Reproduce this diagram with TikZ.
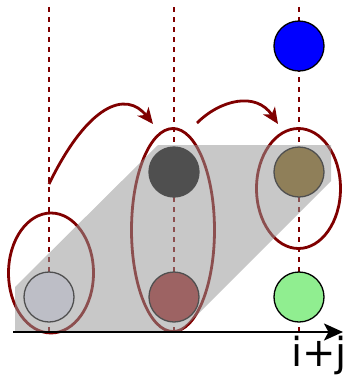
\documentclass[tikz,border=0pt]{standalone}
\usepackage{fontspec}
\newfontfamily\labelfont{DejaVu Sans}
\usetikzlibrary{shapes.geometric,arrows.meta}
\definecolor{maroonc}{RGB}{128,0,0}
\definecolor{shadec}{RGB}{151,151,151}
\definecolor{lavc}{RGB}{232,234,252}
\definecolor{brownc}{RGB}{165,42,42}
\definecolor{olivec}{RGB}{134,100,21}
\definecolor{greenc}{RGB}{144,238,144}
\begin{document}
\begin{tikzpicture}[x=1pt,y=-1pt,
  guide/.style={draw=maroonc, line width=1.3pt, dash pattern=on 4.5pt off 5.5pt},
  dot/.style={circle, draw=black, line width=1.3pt, inner sep=0pt, minimum size=50pt},
  group/.style={ellipse, draw=maroonc, line width=2.8pt, inner sep=0pt},
  hop/.style={draw=maroonc, line width=2.8pt, -{Stealth[length=16pt,width=14pt,inset=4.5pt]}},
  axisline/.style={draw=black, line width=2.5pt, -{Stealth[length=19pt,width=17pt,inset=4.5pt]}}
]
\useasboundingbox (0,0) rectangle (347,376);
% guide lines
\coordinate (g1t) at (49,7);   \coordinate (g1b) at (49,332);
\coordinate (g2t) at (174,7);  \coordinate (g2b) at (174,332);
\coordinate (g3t) at (299,7);  \coordinate (g3b) at (299,332);
\draw[guide] (g1t) -- (g1b);
\draw[guide] (g2t) -- (g2b);
\draw[guide] (g3t) -- (g3b);
% circles
\node[dot, fill=blue]   (blue)  at (299,46) {};
\node[dot, fill=black]  (dark)  at (174,172) {};
\node[dot, fill=olivec] (olive) at (299,172) {};
\node[dot, fill=lavc]   (lav)   at (49,297) {};
\node[dot, fill=brownc] (brn)   at (174,297) {};
\node[dot, fill=greenc] (grn)   at (299,297) {};
% ellipses
\node[group, minimum width=85pt, minimum height=120pt] (e1) at (51,273) {};
\node[group, minimum width=83pt, minimum height=203pt] (e2) at (173,230) {};
\node[group, minimum width=84pt, minimum height=120pt] (e3) at (298.5,188.5) {};
% shaded band
\fill[shadec, fill opacity=0.53] (15,332) -- (15,287) -- (158,145) -- (331,145) -- (331,181) -- (180,332) -- cycle;
% hops
\coordinate (h1s) at (49,184);  \coordinate (h1e) at (153,124);
\coordinate (h2s) at (197,123); \coordinate (h2e) at (278,124);
\draw[hop] (h1s) .. controls (88,104) and (126,90) .. (h1e);
\draw[hop] (h2s) .. controls (220,100) and (256,91) .. (h2e);
% axis
\coordinate (ax0) at (13,332); \coordinate (ax1) at (343,332);
\draw[axisline] (ax0) -- (ax1);
\node[anchor=base west, inner sep=0pt, font=\labelfont\fontsize{40}{40}\selectfont] (lbl) at (291,366) {i+j};
\end{tikzpicture}
\end{document}
